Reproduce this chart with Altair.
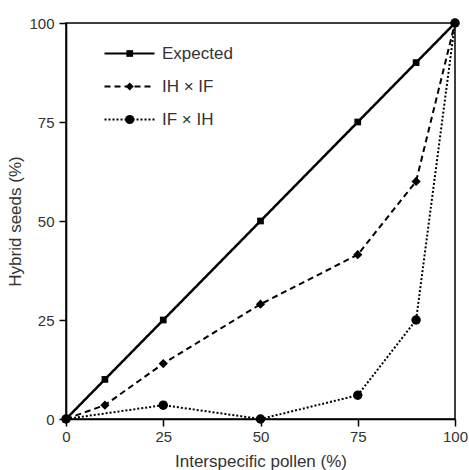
import altair as alt
import pandas as pd

series_names = ["Expected", "IH × IF", "IF × IH"]
expected_x = [0, 10, 25, 50, 75, 90, 100]
expected_y = [0, 10, 25, 50, 75, 90, 100]
ihif_x = [0, 10, 25, 50, 75, 90, 100]
ihif_y = [0, 3.5, 14, 29, 41.5, 60, 100]
ifih_x = [0, 25, 50, 75, 90, 100]
ifih_y = [0, 3.5, 0, 6, 25, 100]
tick_values = [0, 25, 50, 75, 100]

marker_names = ["marker " + n for n in series_names]

rows = []
for name, mname, xs, ys in zip(series_names, marker_names, [expected_x, ihif_x, ifih_x], [expected_y, ihif_y, ifih_y]):
    for xv, yv in zip(xs, ys):
        rows.append({"series": name, "marker": mname, "pollen": xv, "seeds": yv})
df = pd.DataFrame(rows)

FONT = "Liberation Sans"

x_enc = alt.X("pollen:Q", scale=alt.Scale(domain=[0, 100], nice=False),
              axis=alt.Axis(values=tick_values, title="Interspecific pollen (%)", grid=False, labelFlush=False))
y_enc = alt.Y("seeds:Q", scale=alt.Scale(domain=[0, 100], nice=False),
              axis=alt.Axis(values=tick_values, title="Hybrid seeds (%)", grid=False, labelFlush=False))

dashes = [[1, 0], [6, 4], [2, 2]]
widths = [2.5, 2, 2]
shapes = ["square", "diamond", "circle"]
sizes = [45, 85, 90]

base = alt.Chart(df)
layers = []
for name, d, w in zip(series_names, dashes, widths):
    sub = base.transform_filter(alt.datum.series == name)
    layers.append(sub.mark_line(color="black", strokeDash=d, strokeWidth=w, clip=False)
                  .encode(x=x_enc, y=y_enc, order="pollen:Q"))
for name, sh, sz in zip(series_names, shapes, sizes):
    sub = base.transform_filter(alt.datum.series == name)
    layers.append(sub.mark_point(filled=True, color="black", opacity=1, shape=sh, size=sz, clip=False)
                  .encode(x=x_enc, y=y_enc))

LX, LY = 55, 22
common = dict(title=None, orient="none", legendY=LY, padding=0, rowPadding=15,
              labelFont=FONT, labelFontSize=17, symbolOpacity=1)

# legend part 1: line styles with labels
leg_lines = alt.Legend(legendX=LX, symbolType="M-5,0L5,0", symbolSize=100, labelOffset=24,
                       labelColor="#333", symbolStrokeColor="black", symbolStrokeWidth=2, **common)
legend_lines = base.transform_filter(alt.datum.pollen < 0).mark_point(
    filled=False, color="black", strokeWidth=2, opacity=1
).encode(
    x=x_enc, y=y_enc,
    strokeDash=alt.StrokeDash("series:N", scale=alt.Scale(domain=series_names, range=dashes), legend=leg_lines),
)

# legend part 2: filled markers drawn over the line samples (blank labels)
leg_marks = alt.Legend(legendX=LX + 0.25, labelOffset=24, labelExpr="' '", **common)
legend_marks = base.transform_filter(alt.datum.pollen < 0).mark_point(
    filled=True, color="black", opacity=1
).encode(
    x=x_enc, y=y_enc,
    shape=alt.Shape("marker:N", scale=alt.Scale(domain=marker_names, range=shapes), legend=leg_marks),
    size=alt.Size("marker:N", scale=alt.Scale(domain=marker_names, range=sizes), legend=leg_marks),
)
layers += [legend_lines, legend_marks]

chart = alt.layer(*layers).properties(
    width=389, height=396,
    autosize=alt.AutoSizeParams(type="none"),
    padding={"left": 66, "top": 23, "right": 14, "bottom": 51},
).configure_view(
    stroke="black", strokeWidth=1.5
).configure_axis(
    domainColor="black", domainWidth=1.6, tickColor="black", tickWidth=1.5, tickSize=7,
    labelFont=FONT, labelFontSize=15, labelColor="#333", labelPadding=5,
    titleFont=FONT, titleFontSize=17, titleColor="#333", titleFontWeight="normal",
).configure_axisX(titlePadding=9, labelPadding=3).configure_axisY(titlePadding=4)

chart.save("out.html", embed_options={"renderer": "svg", "actions": False})
